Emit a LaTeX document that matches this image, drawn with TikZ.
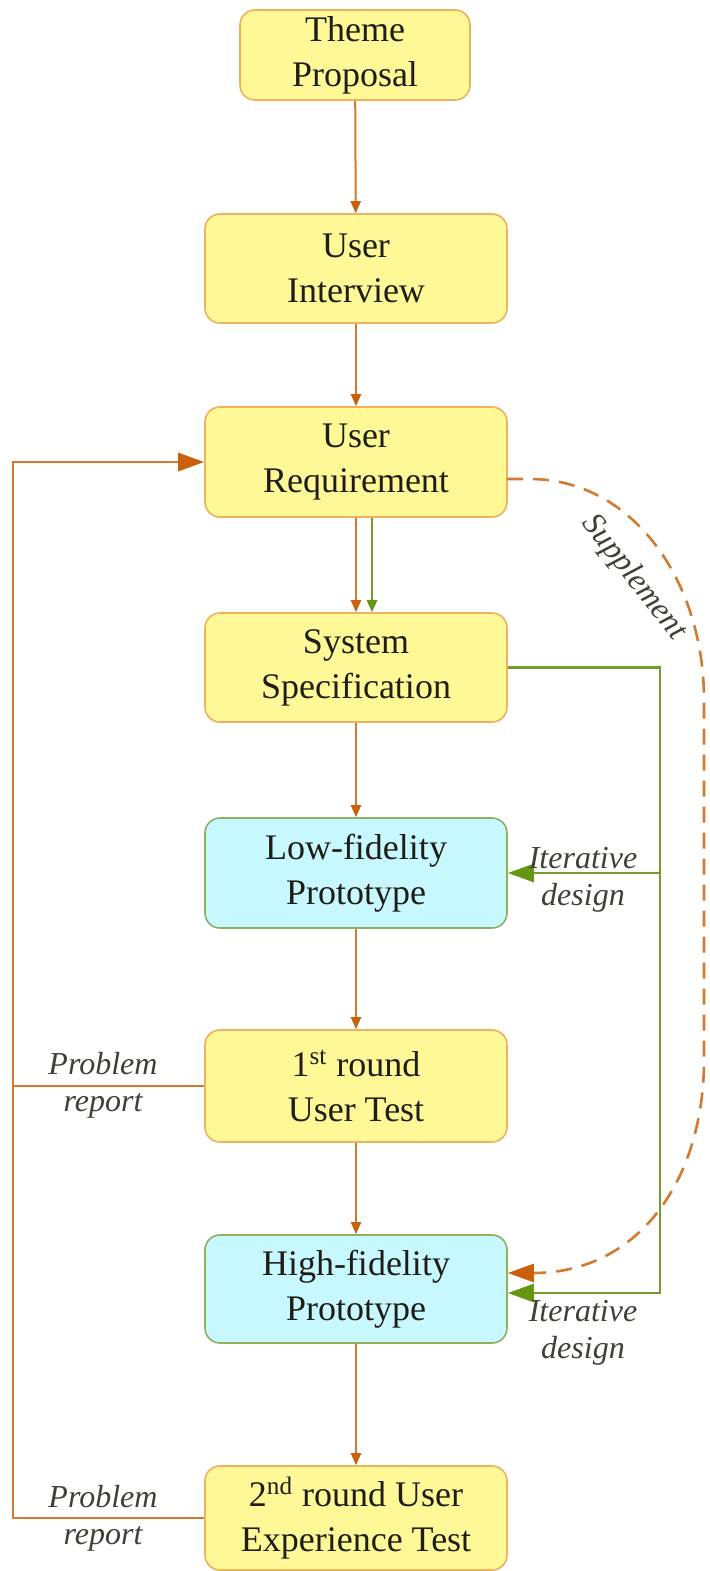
\documentclass[tikz,border=0pt]{standalone}
\usepackage{fontspec}
\setmainfont{Liberation Serif}
\usetikzlibrary{arrows.meta}
\definecolor{flowor}{RGB}{210,122,46}
\definecolor{tipor}{RGB}{200,96,12}
\definecolor{iterg}{RGB}{112,158,40}
\definecolor{tipg}{RGB}{100,150,20}
\definecolor{boxy}{RGB}{255,248,150}
\definecolor{boxyb}{RGB}{238,178,92}
\definecolor{boxc}{RGB}{200,248,255}
\definecolor{boxcb}{RGB}{140,178,96}
\definecolor{txt}{RGB}{30,30,22}
\begin{document}
\begin{tikzpicture}[x=0.5pt,y=-0.5pt,
  stage/.style={draw=boxyb, fill=boxy, line width=0.8pt, rounded corners=7.5pt,
    minimum width=151pt, minimum height=55pt, inner sep=0pt, align=center,
    font=\fontsize{18}{22.5}\selectfont, text=txt},
  proto/.style={stage, draw=boxcb, fill=boxc},
  note/.style={align=center, font=\fontsize{16}{18.5}\selectfont\itshape, text=txt!85},
  tipsm/.style={-{Triangle[length=6pt,width=5pt,color=tipor]}},
  tipbg/.style={-{Triangle[length=13pt,width=9pt]}},
  flow/.style={draw=flowor, line width=1pt, tipsm},
  fbline/.style={draw=flowor, line width=1.4pt},
  gline/.style={draw=iterg, line width=1.2pt},
  supp/.style={draw=flowor, line width=1.3pt, dash pattern=on 8pt off 5pt}
]
\fill[white] (0,0) rectangle (710,1571);
\useasboundingbox (0,0) rectangle (710,1571);

% process stages
\node[stage, minimum width=115pt, minimum height=45pt] (theme) at (355,55) {Theme\\Proposal};
\node[stage, minimum height=54.5pt] (interview) at (356,268.5) {User\\Interview};
\node[stage] (ur) at (356,462) {User\\Requirement};
\node[stage, minimum height=54.5pt] (ss) at (356,667.5) {System\\Specification};
\node[proto] (low) at (356,873) {Low-fidelity\\Prototype};
\node[stage, minimum height=56pt] (ut) at (356,1086) {1\textsuperscript{st} round\\User Test};
\node[proto, minimum height=54pt] (high) at (356,1289) {High-fidelity\\Prototype};
\node[stage, minimum height=52pt] (ux) at (356,1518) {2\textsuperscript{nd} round User\\Experience Test};

% main flow
\draw[flow] (theme) -- (interview);
\draw[flow] (interview) -- (ur);
\draw[flow] (ur) -- (ss);
\draw[gline, -{Triangle[length=6pt,width=5pt,color=tipg]}] ([xshift=8pt]ur.south) -- ([xshift=8pt]ss.north);
\draw[flow] (ss) -- (low);
\draw[flow] (low) -- (ut);
\draw[flow] (ut) -- (high);
\draw[flow] (high) -- (ux);

% iterative design loop
\coordinate (gtop) at (660,667.5);
\coordinate (gbot) at (660,1293);
\draw[gline, -{Triangle[length=13pt,width=9pt,color=tipg]}] (ss.east) -- (gtop) -- (gbot) -- ([yshift=-2pt]high.east);
\draw[gline, -{Triangle[length=13pt,width=9pt,color=tipg]}] (gtop |- low.east) -- (low.east);
\node[note] (it1) at (583,880) {Iterative\\design};
\node[note] (it2) at (583,1333) {Iterative\\design};

% supplement path
\coordinate (s0) at (507,479);
\draw[supp, -{Triangle[length=13pt,width=9pt,color=tipor]}]
  (s0) -- (530,479) .. controls (632,479) and (704,580) .. (704,700)
  -- (704,1060) .. controls (704,1178) and (640,1273) .. ([yshift=8pt]high.east);
\node[note, rotate=-52] (sup) at (634,578) {Supplement};

% problem report feedback
\coordinate (fbtop) at (13,462);
\draw[fbline] (ut.west) -- (ut.west -| fbtop);
\draw[fbline, -{Triangle[length=13pt,width=9pt,color=tipor]}] (ux.west) -- (ux.west -| fbtop) -- (fbtop) -- (ur.west);
\node[note] (pr1) at (103,1085) {Problem\\report};
\node[note] (pr2) at (103,1518) {Problem\\report};
\end{tikzpicture}
\end{document}
